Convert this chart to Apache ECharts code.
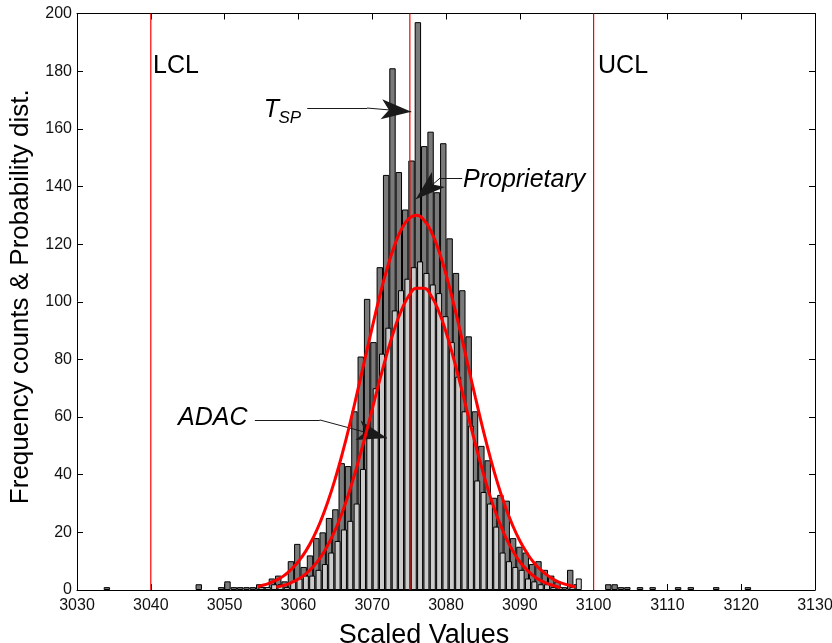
<!DOCTYPE html>
<html>
<head>
<meta charset="utf-8">
<script src="https://cdn.jsdelivr.net/npm/echarts@6/dist/echarts.min.js"></script>
<style>
html,body{margin:0;padding:0;background:#fff;}
#chart{width:832px;height:643px;}
</style>
</head>
<body>
<div id="chart"></div>
<script>
// ---- axis ranges ----
const xMin = 3030, xMax = 3130, xStep = 10;
const yMin = 0, yMax = 200, yStep = 20;

// ---- Proprietary histogram (dark bars): bin centres and counts ----
const darkCenters = [3034.05, 3046.5, 3049.53, 3050.39, 3051.25, 3052.11, 3052.97, 3053.83, 3054.69, 3055.55,
  3056.41, 3057.27, 3058.13, 3058.99, 3059.85, 3060.71, 3061.57, 3062.43, 3063.29, 3064.15,
  3065.01, 3065.87, 3066.73, 3067.59, 3068.45, 3069.31, 3070.17, 3071.03, 3071.89, 3072.75,
  3073.61, 3074.47, 3075.33, 3076.19, 3077.05, 3077.91, 3078.77, 3079.63, 3080.49, 3081.35,
  3082.21, 3083.07, 3083.93, 3084.79, 3085.65, 3086.51, 3087.37, 3088.23, 3089.09, 3089.95,
  3090.81, 3091.67, 3092.53, 3093.39, 3094.25, 3095.11, 3095.97, 3096.83, 3097.69,
  3101.99, 3102.85, 3103.71, 3104.57, 3106.29, 3108.0, 3111.45, 3113.17, 3116.61, 3120.91];
const darkCounts = [1, 2, 1, 3, 1, 1, 1, 1, 2, 1,
  4, 5, 3, 10, 16, 8, 12, 18, 20, 25,
  28, 44, 43, 62, 81, 101, 86, 112, 144, 181,
  145, 132, 149, 197, 154, 159, 138, 155, 122, 110,
  104, 88, 62, 50, 45, 32, 33, 31, 18, 15,
  13, 9, 10, 7, 5, 3, 1, 7, 2,
  2, 2, 1, 1, 1, 1, 1, 1, 1, 1];

// ---- ADAC histogram (light bars): bin centres and counts ----
const lightCenters = [3054.99, 3055.85, 3056.71, 3057.57, 3058.43, 3059.29, 3060.15, 3061.01, 3061.87, 3062.73,
  3063.59, 3064.45, 3065.31, 3066.17, 3067.03, 3067.89, 3068.75, 3069.61, 3070.47, 3071.33,
  3072.19, 3073.05, 3073.91, 3074.77, 3075.63, 3076.49, 3077.35, 3078.21, 3079.07, 3079.93,
  3080.79, 3081.65, 3082.51, 3083.37, 3084.23, 3085.09, 3085.95, 3086.81, 3087.67, 3088.53,
  3089.39, 3090.25, 3091.11, 3091.97, 3092.83, 3093.69, 3094.55, 3095.41, 3097.13, 3097.99];
const lightCounts = [1, 1, 2, 2, 1, 3, 4, 5, 5, 7,
  9, 13, 17, 21, 24, 30, 42, 55, 70, 82,
  91, 97, 104, 108, 112, 114, 110, 106, 103, 95,
  86, 74, 62, 57, 38, 34, 30, 22, 13, 10,
  8, 7, 4, 3, 2, 2, 1, 1, 1, 4];

// ---- fitted probability curves ----
const propX = [3054.5, 3055, 3056, 3057, 3058, 3059, 3060, 3061, 3062, 3063, 3064, 3065, 3066, 3067, 3068, 3069,
  3070, 3071, 3072, 3073, 3074, 3075, 3076, 3077, 3078, 3079, 3080, 3081, 3082, 3083, 3084, 3085,
  3086, 3087, 3088, 3089, 3090, 3091, 3092, 3093, 3094, 3095, 3096, 3097, 3097.5];
const propY = [1.2, 1.5, 2.3, 3.4, 4.9, 7.1, 9.9, 13.5, 18.1, 23.8, 30.7, 38.7, 47.8, 57.9, 68.8, 80.0,
  91.1, 101.8, 111.3, 119.3, 125.3, 128.9, 130.0, 128.4, 124.3, 117.9, 109.5, 99.7, 88.9, 77.7, 66.6, 55.9,
  45.9, 37.0, 29.2, 22.6, 17.1, 12.7, 9.2, 6.6, 4.6, 3.1, 2.1, 1.4, 1.1];
const adacX = [3057, 3058, 3059, 3060, 3061, 3062, 3063, 3064, 3065, 3066, 3067, 3068, 3069, 3070,
  3071, 3072, 3073, 3074, 3075, 3076, 3077, 3078, 3079, 3080, 3081, 3082, 3083, 3084, 3085, 3086,
  3087, 3088, 3089, 3090, 3091, 3092, 3093, 3094, 3095, 3095.5];
const adacY = [1.0, 1.6, 2.5, 3.8, 5.6, 8.1, 11.3, 15.6, 20.9, 27.3, 34.9, 43.5, 52.8, 62.7,
  72.6, 82.0, 90.4, 97.3, 102.2, 104.7, 104.7, 102.0, 96.8, 89.5, 80.6, 70.8, 60.5, 50.4, 41.0, 32.4,
  25.0, 18.8, 13.8, 9.8, 6.9, 4.6, 3.1, 2.0, 1.2, 0.8];

// ---- reference lines ----
const limitNames = ['LCL', 'UCL', 'TSP'];
const limitValues = [3040, 3100, 3075.1];

const zip = (a, b) => a.map((v, i) => [v, b[i]]);

const font = '"Liberation Sans", Arial, sans-serif';
const chart = echarts.init(document.getElementById('chart'), null, {renderer: 'canvas'});

const labelPt = (coord, text, size, italic) => ({
  coord: coord,
  symbol: 'circle', symbolSize: 0,
  label: {show: true, position: 'right', distance: 0, formatter: text,
    fontSize: size, fontStyle: italic ? 'italic' : 'normal', fontFamily: font, color: '#000'}
});

const arrowStyle = {color: '#1a1a1a', width: 1, type: 'solid'};
const arrowSeg = (p0, p1, p2) => [
  [{coord: p0, symbol: 'none', lineStyle: arrowStyle}, {coord: p1, symbol: 'none'}],
  [{coord: p1, symbol: 'none', lineStyle: arrowStyle}, {coord: p2, symbol: 'arrow', symbolSize: [15, 30]}]
];

const axisFmt = (v) => String(v);

const limitSeries = limitNames.map((n, i) => ({
  name: n, type: 'line', xAxisIndex: 0, yAxisIndex: 0, z: 4,
  data: [[limitValues[i], yMin], [limitValues[i], yMax]],
  showSymbol: false, symbol: 'none', silent: true,
  lineStyle: {color: '#ff0000', width: 1.2}
}));

const option = {
  animation: false,
  backgroundColor: '#fff',
  grid: {left: 77, right: 17, top: 13.5, bottom: 53, containLabel: false, outerBoundsMode: 'none'},
  xAxis: [{
    type: 'value', min: xMin, max: xMax, interval: xStep, position: 'bottom',
    axisLine: {onZero: false, lineStyle: {color: '#000', width: 1}},
    axisTick: {inside: true, length: 6, lineStyle: {color: '#000'}},
    axisLabel: {fontSize: 16, color: '#111', fontFamily: font, margin: 8, formatter: axisFmt},
    splitLine: {show: false},
    name: 'Scaled Values', nameLocation: 'middle', nameGap: 32,
    nameTextStyle: {fontSize: 27, color: '#000', fontFamily: font, padding: [0, 44, 0, 0]}
  }, {
    type: 'value', min: xMin, max: xMax, interval: xStep, position: 'top',
    axisLine: {onZero: false, lineStyle: {color: '#000', width: 1}},
    axisTick: {inside: true, length: 6, lineStyle: {color: '#000'}},
    axisLabel: {show: false}, splitLine: {show: false}
  }],
  yAxis: [{
    type: 'value', min: yMin, max: yMax, interval: yStep, position: 'left',
    axisLine: {show: true, onZero: false, lineStyle: {color: '#000', width: 1}},
    axisTick: {show: true, inside: true, length: 6, lineStyle: {color: '#000'}},
    axisLabel: {fontSize: 16, color: '#111', fontFamily: font, margin: 5, formatter: axisFmt},
    splitLine: {show: false},
    name: 'Frequency counts & Probability dist.', nameLocation: 'middle', nameGap: 43,
    nameTextStyle: {fontSize: 26, color: '#000', fontFamily: font, padding: [0, 0, 0, 10]}
  }, {
    type: 'value', min: yMin, max: yMax, interval: yStep, position: 'right',
    axisLine: {show: true, onZero: false, lineStyle: {color: '#000', width: 1}},
    axisTick: {show: true, inside: true, length: 6, lineStyle: {color: '#000'}},
    axisLabel: {show: false}, splitLine: {show: false}
  }],
  series: [{
    name: 'Proprietary counts', type: 'bar', xAxisIndex: 0, yAxisIndex: 0,
    data: zip(darkCenters, darkCounts), barWidth: 6.4,
    itemStyle: {color: '#7a7a7a', borderColor: '#000', borderWidth: 1}
  }, {
    name: 'ADAC counts', type: 'bar', xAxisIndex: 1, yAxisIndex: 0,
    data: zip(lightCenters, lightCounts), barWidth: 6,
    itemStyle: {color: '#cbcbcb', borderColor: '#000', borderWidth: 1}
  }].concat(limitSeries, [{
    name: 'Proprietary fit', type: 'line', xAxisIndex: 0, yAxisIndex: 0, z: 5,
    data: zip(propX, propY), smooth: true, showSymbol: false,
    lineStyle: {color: '#ff0000', width: 3},
    markPoint: {
      silent: true,
      data: [
        labelPt([3040.3, 181.8], 'LCL', 25, false),
        labelPt([3100.6, 181.8], 'UCL', 25, false),
        labelPt([3055.3, 166.5], 'T', 25, true),
        labelPt([3057.3, 163.6], 'SP', 17, true),
        labelPt([3082.3, 142.2], 'Proprietary', 25, true),
        labelPt([3043.7, 59.7], 'ADAC', 25, true)
      ]
    }
  }, {
    name: 'ADAC fit', type: 'line', xAxisIndex: 0, yAxisIndex: 0, z: 5,
    data: zip(adacX, adacY), smooth: true, showSymbol: false,
    lineStyle: {color: '#ff0000', width: 3},
    markLine: {
      silent: true, label: {show: false},
      lineStyle: arrowStyle,
      data: [].concat(
        arrowSeg([3061.2, 167.2], [3069.3, 167.2], [3075.3, 165.9]),
        arrowSeg([3082.2, 142.9], [3079.2, 142.9], [3075.9, 135.6]),
        arrowSeg([3054.1, 59.0], [3062.9, 59.0], [3072.0, 52.7])
      )
    }
  }])
};
chart.setOption(option);
</script>
</body>
</html>
